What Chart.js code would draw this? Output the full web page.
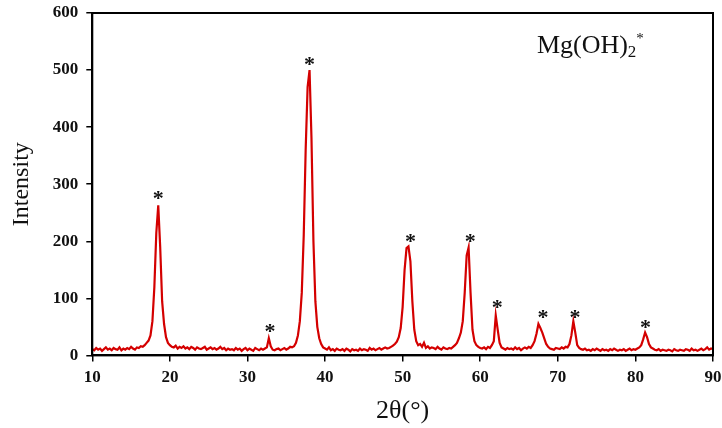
<!DOCTYPE html>
<html lang="en">
<head>
    <meta charset="UTF-8">
    <title>XRD Mg(OH)2</title>
    <script src="https://cdn.jsdelivr.net/npm/chart.js"></script>
    <style>
        body { margin: 0; background: #fff; }
    </style>
</head>
<body>
    <div style="width: 722px; height: 428px;">
        <canvas id="Grafico"></canvas>
    </div>

    <script>
        // 2theta grid: start 10, step 0.25 deg, one row = 2 degrees
        const thetaStart = 10
        const thetaStep = 0.25
        const intensidade = [
            11,9,13,10,12,8,11,14,
            10,12,9,13,11,10,14,9,
            12,10,13,11,15,12,10,14,
            13,16,15,18,22,26,35,60,
            120,215,263,190,95,55,32,22,
            18,15,14,17,12,15,13,16,
            12,14,11,15,13,10,14,12,
            11,13,15,10,12,14,11,13,
            10,12,15,11,13,9,12,10,
            11,9,13,10,12,8,11,13,
            9,12,10,8,13,11,9,12,
            10,12,14,30,16,10,9,11,
            12,9,11,13,10,12,15,14,
            16,22,35,60,110,210,360,470,
            500,380,200,95,50,30,20,14,
            12,10,14,9,11,8,12,10,
            9,11,8,12,10,7,11,9,
            10,8,12,9,11,10,8,13,
            10,12,9,11,13,10,12,14,
            12,13,15,17,20,24,32,48,
            85,150,188,191,165,95,45,25,
            18,20,15,22,13,16,12,14,
            13,11,15,12,10,14,12,11,
            13,12,15,18,22,30,40,60,
            110,175,189,110,45,25,18,15,
            13,12,14,11,15,13,18,25,
            70,45,22,14,12,10,13,11,
            12,10,14,11,13,9,12,14,
            12,15,13,18,25,38,55,48,
            40,30,20,15,12,11,10,13,
            12,11,14,12,15,14,20,35,
            60,40,18,13,11,10,12,9,
            10,8,11,9,12,10,8,11,
            9,10,8,11,9,12,10,8,
            10,9,11,8,10,12,9,11,
            10,12,14,18,28,40,32,20,
            14,12,10,9,11,8,10,9,
            8,10,9,7,11,9,8,10,
            9,8,11,10,8,12,9,10,
            8,10,12,9,11,14,10,12,
            11
        ]
        // peak markers (*)
        const picosTheta = [18.5, 32.9, 38.0, 51.0, 58.7, 62.2, 68.1, 72.2, 81.3]
        const picosY = [282, 49, 517, 207, 207, 92, 74, 74, 57]
        const xTicks = [10, 20, 30, 40, 50, 60, 70, 80, 90]
        const yTicks = [0, 100, 200, 300, 400, 500, 600]

        const pontos = intensidade.map((v, i) => ({x: thetaStart + i * thetaStep, y: v}))

        const serif = "'Liberation Serif', 'Times New Roman', serif"

        const extras = {
            id: 'extras',
            afterDatasetsDraw(chart) {
                const c = chart.ctx
                const a = chart.chartArea
                const sx = chart.scales.x, sy = chart.scales.y
                c.save()
                // box
                c.strokeStyle = '#000'
                c.lineWidth = 2
                c.strokeRect(a.left, a.top, a.right - a.left, a.bottom - a.top)
                // stars
                c.fillStyle = '#111'
                c.font = 'bold 22px ' + serif
                c.textAlign = 'center'
                c.textBaseline = 'middle'
                picosTheta.forEach((t, i) => {
                    c.fillText('*', sx.getPixelForValue(t), sy.getPixelForValue(picosY[i]) + 5)
                })
                // label
                c.textAlign = 'left'
                c.textBaseline = 'alphabetic'
                let px = sx.getPixelForValue(67.3)
                const py = sy.getPixelForValue(530)
                c.font = '26px ' + serif
                c.fillText('Mg(OH)', px, py)
                px += c.measureText('Mg(OH)').width
                c.font = '17px ' + serif
                c.fillText('2', px, py + 4)
                px += c.measureText('2').width
                c.font = '15px ' + serif
                c.fillText('*', px, py - 10)
                c.restore()
            }
        }

        const ctx = document.getElementById('Grafico')
        new Chart(ctx, {
            type: 'line',
            data: {
                datasets: [{
                    data: pontos,
                    borderColor: '#d40000',
                    borderWidth: 2.2,
                    pointRadius: 0,
                    tension: 0,
                    fill: false
                }]
            },
            options: {
                responsive: true,
                maintainAspectRatio: false,
                animation: false,
                layout: { padding: { left: 7, right: 9, top: 13, bottom: 1 } },
                plugins: { legend: { display: false }, tooltip: { enabled: false } },
                scales: {
                    x: {
                        type: 'linear',
                        min: 10, max: 90,
                        afterBuildTicks: ax => { ax.ticks = xTicks.map(v => ({value: v})) },
                        afterFit: ax => { ax.paddingRight = 0 },
                        grid: { drawOnChartArea: false, color: '#000', tickLength: 6, lineWidth: 1.5 },
                        border: { color: '#000', width: 2 },
                        ticks: { color: '#111', font: { family: serif, size: 17, weight: 'bold' }, padding: 6 },
                        title: { display: true, text: '2θ(°)', color: '#111', font: { family: serif, size: 26 }, padding: { top: 2, bottom: 0 } }
                    },
                    y: {
                        min: 0, max: 600,
                        afterBuildTicks: ax => { ax.ticks = yTicks.map(v => ({value: v})) },
                        afterFit: ax => { ax.paddingTop = 0 },
                        grid: { drawOnChartArea: false, color: '#000', tickLength: 6, lineWidth: 1.5 },
                        border: { color: '#000', width: 2 },
                        ticks: { color: '#111', font: { family: serif, size: 17, weight: 'bold' }, padding: 8 },
                        title: { display: true, text: 'Intensity', color: '#111', font: { family: serif, size: 24 }, padding: { top: 0, bottom: 9 } }
                    }
                }
            },
            plugins: [extras]
        })
    </script>
</body>
</html>
